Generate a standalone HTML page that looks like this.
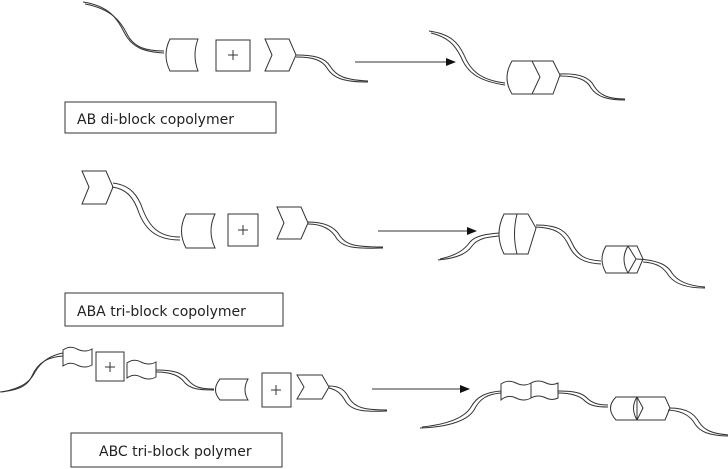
<!DOCTYPE html>
<html><head><style>
html,body{margin:0;padding:0;background:#fff;}
svg{display:block;}
text{font-family:"DejaVu Sans","Liberation Sans",sans-serif;fill:#222;}
</style></head><body>
<svg width="728" height="469" viewBox="0 0 728 469" xmlns="http://www.w3.org/2000/svg">
<defs>
<marker id="ah" markerWidth="10" markerHeight="8" refX="9" refY="4" orient="auto" markerUnits="userSpaceOnUse">
<path d="M0,0 L10,4 L0,8 Z" fill="#111"/>
</marker>
</defs>
<g fill="none" stroke="#333" stroke-width="1">
<!-- ROW 1 -->
<path d="M83,2 C110,6 118,20 124,32 C132,48 145,52 164,53"/>
<path d="M85,4 C112,9 121,22 127,34 C134,48 147,51 164,51"/>
<path d="M170,39 L198,39 Q192,55 198,71 L170,71 Q162,55 170,39 Z" fill="#fff"/>
<rect x="216" y="40" width="34" height="31" fill="#fff"/>
<path d="M265,39 L289,39 L296,55 L289,71 L265,71 L272,55 Z" fill="#fff"/>
<path d="M296,55 C315,55 325,58 330,66 C336,76 345,80 368,81"/>
<path d="M296,57 C313,57 322,60 327,68 C333,78 343,82 368,82"/>
<line x1="355" y1="62" x2="455" y2="62" marker-end="url(#ah)"/>
<path d="M429,31 C450,34 458,42 464,55 C470,70 480,80 505,83"/>
<path d="M431,33 C448,37 455,45 461,57 C467,72 478,81 505,85"/>
<path d="M512,61 L553,61 L560,75 L553,94 L512,94 Q502,78 512,61 Z" fill="#fff"/>
<path d="M532,61 L540,77 L532,94"/>
<path d="M560,74 C580,73 590,78 594,86 C600,96 610,99 625,99"/>
<path d="M560,76 C578,76 587,80 591,88 C597,97 608,100 625,100"/>

<rect x="65" y="102" width="211" height="31"/>

<!-- ROW 2 -->
<path d="M82,171 L106,171 L113,187 L106,204 L82,204 L89,187 Z" fill="#fff"/>
<path d="M113,183 C130,185 138,195 143,210 C150,228 160,237 180,237"/>
<path d="M112,187 C127,189 134,198 139,213 C146,231 158,240 180,240"/>
<path d="M186,214 L215,214 Q207,231 215,248 L186,248 Q177,231 186,214 Z" fill="#fff"/>
<rect x="228" y="214" width="30" height="32" fill="#fff"/>
<path d="M277,207 L301,207 L308,223 L301,239 L277,239 L284,223 Z" fill="#fff"/>
<path d="M308,222 C325,222 335,227 340,236 C346,245 355,247 383,247"/>
<path d="M308,224 C323,224 332,230 337,239 C343,247 353,249 383,248"/>
<line x1="378" y1="231" x2="476" y2="231" marker-end="url(#ah)"/>
<path d="M438,260 C460,258 468,252 472,246 C478,238 488,237 499,236"/>
<path d="M440,259 C458,255 465,249 470,242 C475,236 486,234 499,233"/>
<path d="M504,214 L528,214 L536,228 L528,254 L504,254 Q494,234 504,214 Z" fill="#fff"/>
<path d="M517,214 Q512,234 517,254"/>
<path d="M536,225 C560,225 567,232 572,243 C578,256 585,260 601,261"/>
<path d="M536,227 C558,228 564,235 569,246 C575,258 583,263 601,264"/>
<path d="M606,246 L637,246 L643,259 L637,273 L606,273 Q598,259 606,246 Z" fill="#fff"/>
<path d="M628,246 Q620,259 628,273 M628,246 L636,259 L628,273"/>
<path d="M636,259 C660,260 668,266 672,273 C678,282 690,286 705,287"/>
<path d="M643,262 C658,263 664,268 669,276 C675,284 688,288 705,288"/>

<rect x="65" y="293" width="218" height="33"/>

<!-- ROW 3 -->
<path d="M0,392 C20,390 28,385 32,376 C38,362 48,357 63,356"/>
<path d="M2,392 C22,388 30,382 35,372 C42,360 52,355 63,353"/>
<path d="M63,350 Q70,345 77,349 Q85,353 92,349 L92,365 Q85,369 77,365 Q70,361 63,366 Z" fill="#fff"/>
<rect x="96" y="352" width="28" height="29" fill="#fff"/>
<path d="M127,363 Q134,358 141,362 Q149,366 156,362 L156,377 Q149,381 141,377 Q134,373 127,378 Z" fill="#fff"/>
<path d="M156,370 C175,370 182,373 188,380 C194,387 200,389 214,389"/>
<path d="M156,372 C172,372 180,376 185,383 C191,389 199,390 214,390"/>
<path d="M220,379 L248,379 Q242,390 248,400 L220,400 Q211,390 220,379 Z" fill="#fff"/>
<rect x="262" y="373" width="29" height="34" fill="#fff"/>
<path d="M297,375 L322,375 L329,387 L322,399 L297,399 L304,387 Z" fill="#fff"/>
<path d="M329,386 C340,386 345,390 349,398 C355,408 365,410 387,410"/>
<path d="M329,388 C338,390 342,395 346,402 C352,411 365,412 387,411"/>
<line x1="372" y1="389" x2="469" y2="389" marker-end="url(#ah)"/>
<path d="M420,428 C450,427 468,420 474,410 C480,398 488,394 501,393"/>
<path d="M422,427 C450,424 465,417 471,407 C477,396 487,392 501,391"/>
<path d="M501,384 Q508,379 516,383 Q524,387 531,383 Q538,379 546,383 Q552,386 558,383 L558,398 Q552,401 546,398 Q538,394 531,398 Q524,402 516,398 Q508,394 501,400 Z" fill="#fff"/>
<path d="M531,383 L531,398"/>
<path d="M558,391 C575,391 582,393 587,398 C592,403 598,405 608,405"/>
<path d="M558,393 C572,393 580,396 585,401 C590,406 598,407 608,407"/>
<path d="M616,397 L665,397 L670,408 L665,420 L616,420 Q605,408 616,397 Z" fill="#fff"/>
<path d="M637,397 L637,420 M637,397 L643,408 L637,420 M637,397 Q630,408 637,420"/>
<path d="M670,408 C688,408 695,415 699,422 C704,430 712,434 730,435"/>
<path d="M668,410 C684,411 691,417 695,424 C700,432 710,436 730,436"/>

<rect x="71" y="433" width="211" height="34"/>
</g>
<g stroke="#333" stroke-width="1">
<line x1="233" y1="50" x2="233" y2="60"/><line x1="228" y1="55" x2="238" y2="55"/>
<line x1="243" y1="225" x2="243" y2="235"/><line x1="238" y1="230" x2="248" y2="230"/>
<line x1="110" y1="362" x2="110" y2="372"/><line x1="105" y1="367" x2="115" y2="367"/>
<line x1="276" y1="385" x2="276" y2="395"/><line x1="271" y1="390" x2="281" y2="390"/>
</g>
<text x="77" y="124" font-size="14">AB di-block copolymer</text>
<text x="77" y="316" font-size="14">ABA tri-block copolymer</text>
<text x="99" y="456" font-size="14">ABC tri-block polymer</text>
</svg>
</body></html>
